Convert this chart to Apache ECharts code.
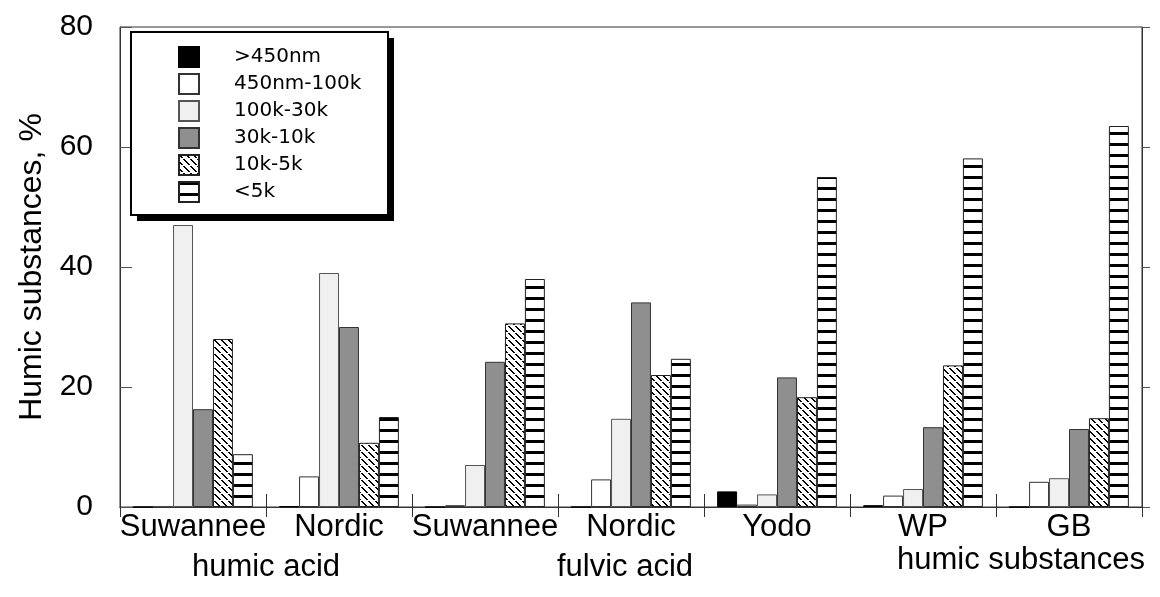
<!DOCTYPE html>
<html>
<head>
<meta charset="utf-8">
<script src="https://cdn.jsdelivr.net/npm/echarts@6/dist/echarts.min.js"></script>
<style>
html,body{margin:0;padding:0;background:#fff;}
#c{width:1160px;height:597px;}
</style>
</head>
<body>
<div id="c"></div>
<script>
// ---- data ----
const categories = ['Suwannee', 'Nordic', 'Suwannee', 'Nordic', 'Yodo', 'WP', 'GB'];
const seriesNames = ['>450nm', '450nm-100k', '100k-30k', '30k-10k', '10k-5k', '<5k'];
const gt450nm   = [0, 0.1, 0, 0, 2.6, 0.3, 0];
const nm450k100 = [0, 5.1, 0.3, 4.6, 0.4, 1.9, 4.2];
const k100k30   = [47, 39, 7, 14.7, 2.1, 3.0, 4.8];
const k30k10    = [16.3, 30, 24.2, 34.1, 21.6, 13.3, 13.0];
const k10k5     = [28, 10.7, 30.6, 22, 18.3, 23.6, 14.8];
const lt5k      = [8.8, 15, 38, 24.7, 55, 58.1, 63.5];
const yTicks = [0, 20, 40, 60, 80];
const groupLabels = ['humic acid', 'fulvic acid', 'humic substances'];
const yName = 'Humic substances, %';

// ---- patterns ----
function hatchTile() {
  const n = 7;
  const c = document.createElement('canvas');
  c.width = n; c.height = n;
  const g = c.getContext('2d');
  g.fillStyle = '#fff'; g.fillRect(0, 0, n, n);
  g.fillStyle = '#000';
  for (let i = 0; i < n; i++) {
    if (i === 3) continue;
    g.fillRect(i, i, 2, 1);
    if (i === n - 1) g.fillRect(0, i, 1, 1);
  }
  return c;
}
function stripeTile() {
  const c = document.createElement('canvas');
  c.width = 4; c.height = 11;
  const g = c.getContext('2d');
  g.fillStyle = '#fff'; g.fillRect(0, 0, 4, 11);
  g.fillStyle = '#000'; g.fillRect(0, 0, 4, 3);
  return c;
}
const fills = [
  '#000000',
  '#ffffff',
  '#f0f0f0',
  '#8f8f8f',
  { image: hatchTile(), repeat: 'repeat' },
  { image: stripeTile(), repeat: 'repeat' }
];
const borders = ['#000', '#333', '#555', '#333', '#222', '#222'];
const values = [gt450nm, nm450k100, k100k30, k30k10, k10k5, lt5k];

const chart = echarts.init(document.getElementById('c'), null, { renderer: 'canvas' });

const series = seriesNames.map((n, i) => ({
  name: n,
  type: 'bar',
  data: values[i],
  barGap: '0%',
  barCategoryGap: '18%',
  itemStyle: { color: fills[i], borderColor: borders[i], borderWidth: 1 },
  emphasis: { disabled: true },
  animation: false
}));

const FONT = '"Liberation Sans", Arial, Helvetica, sans-serif';

chart.setOption({
  animation: false,
  backgroundColor: '#fff',
  grid: { left: 120, right: 18, top: 27, bottom: 90, show: true, borderColor: '#333', borderWidth: 1, backgroundColor: 'transparent' },
  xAxis: [
    {
      type: 'category', data: categories, position: 'bottom',
      axisLine: { lineStyle: { color: '#333', width: 1 } },
      axisTick: { show: true, inside: true, length: 13, lineStyle: { color: '#333' } },
      axisLabel: { fontSize: 31, color: '#000', fontFamily: FONT, margin: 5, interval: 0 }
    },
    {
      type: 'category', data: categories, position: 'top',
      axisLine: { lineStyle: { color: '#333', width: 1 } },
      axisTick: { show: true, inside: true, length: 10, lineStyle: { color: '#333' } },
      axisLabel: { show: false }
    }
  ],
  yAxis: [
    {
      type: 'value', min: 0, max: 80, interval: 20, position: 'left',
      name: yName, nameLocation: 'middle', nameGap: 72, nameRotate: 90,
      nameTextStyle: { fontSize: 32, color: '#000', fontFamily: FONT },
      axisLine: { show: true, lineStyle: { color: '#333', width: 1 } },
      axisTick: { show: true, inside: true, length: 12, lineStyle: { color: '#555' } },
      axisLabel: { fontSize: 30, color: '#000', fontFamily: FONT, margin: 27,
        formatter: v => yTicks.indexOf(v) >= 0 ? String(v) : '' },
      splitLine: { show: false }
    },
    {
      type: 'value', min: 0, max: 80, interval: 20, position: 'right',
      axisLine: { show: true, lineStyle: { color: '#333', width: 1 } },
      axisTick: { show: true, inside: false, length: 8, lineStyle: { color: '#555' } },
      axisLabel: { show: false },
      splitLine: { show: false }
    }
  ],
  legend: {
    orient: 'vertical', left: 178, top: 46, padding: 0,
    itemWidth: 20, itemHeight: 20, itemGap: 5,
    icon: 'rect', z: 20,
    selectedMode: false,
    textStyle: { fontSize: 20, color: '#000', fontFamily: '"DejaVu Sans", Verdana, sans-serif', padding: [0, 0, 0, 30] },
    data: seriesNames
  },
  graphic: [
    { type: 'rect', z: 15, shape: { x: 137, y: 38, width: 257, height: 183 }, style: { fill: '#000' } },
    { type: 'rect', z: 16, shape: { x: 131, y: 32, width: 257, height: 183 }, style: { fill: '#fff', stroke: '#000', lineWidth: 2 } },
    { type: 'text', x: 266, y: 567, style: { text: groupLabels[0], font: '31px ' + FONT, fill: '#000', textAlign: 'center', textVerticalAlign: 'middle' } },
    { type: 'text', x: 625, y: 567, style: { text: groupLabels[1], font: '31px ' + FONT, fill: '#000', textAlign: 'center', textVerticalAlign: 'middle' } },
    { type: 'text', x: 1021, y: 560, style: { text: groupLabels[2], font: '31px ' + FONT, fill: '#000', textAlign: 'center', textVerticalAlign: 'middle' } }
  ],
  series: series
});
</script>
</body>
</html>
